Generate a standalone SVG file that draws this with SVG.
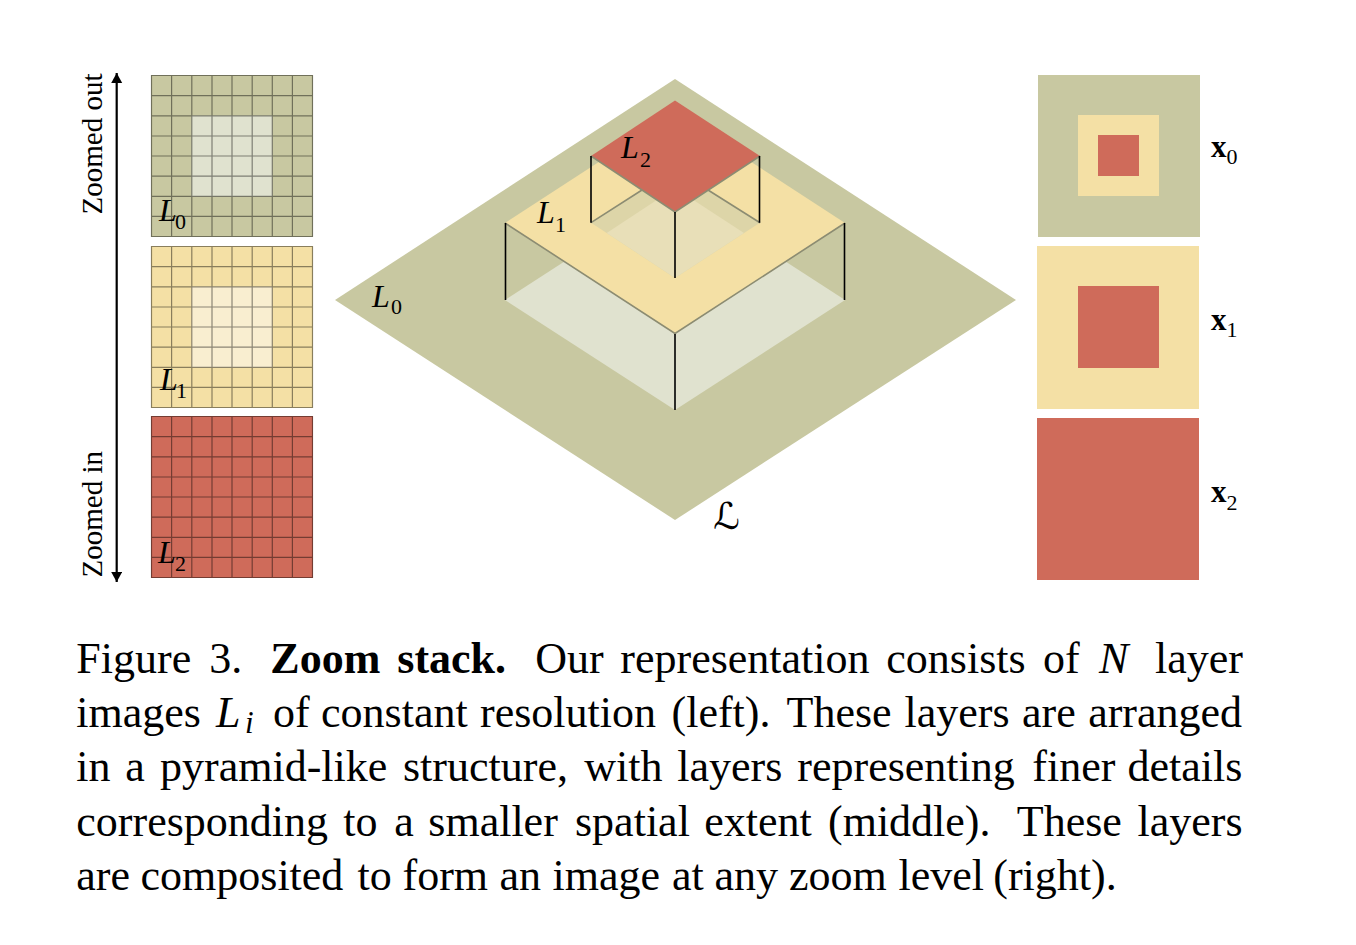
<svg xmlns="http://www.w3.org/2000/svg" xmlns:xlink="http://www.w3.org/1999/xlink" width="1356" height="945" viewBox="0 0 1356 945">
<style>
text{font-family:"Liberation Serif","Times New Roman",serif;fill:#000}
.m{font-style:italic;font-size:32px}
.s{font-size:22px}
.lab{font-size:29px}
.bx{font-weight:bold;font-size:31px}
.cap{font-size:44px}
.g{fill:#c8c8a1}.y{fill:#f4e0a5}.r{fill:#cf6b5a}
.grid{fill:none;stroke:#000;stroke-opacity:.44;stroke-width:1.2}
.post{stroke:#000;stroke-width:1.6;fill:none}
.edge{stroke:#8c8c72;stroke-width:1.6;fill:none}
</style>
<defs>
<path id="gridlines" class="grid" d="M.5 .5H161.500V161.500H.5ZM20.600 0V162M40.800 0V162M61 0V162M81 0V162M101.200 0V162M121.300 0V162M141.400 0V162M0 20.600H162M0 40.800H162M0 61H162M0 81H162M0 101.200H162M0 121.300H162M0 141.400H162"/>
<marker id="ah" markerUnits="userSpaceOnUse" markerWidth="12" markerHeight="12" refX="10" refY="5.500" orient="auto-start-reverse"><path d="M0 0L10 5.500L0 11Z" fill="#000"/></marker>
</defs>
<g id="axis"><line x1="116.700" y1="73" x2="116.700" y2="582" stroke="#000" stroke-width="2.200" marker-start="url(#ah)" marker-end="url(#ah)"/>
<text class="lab" transform="translate(102,214.500) rotate(-90)">Zoomed out</text>
<text class="lab" transform="translate(102,577.500) rotate(-90)">Zoomed in</text></g>
<g id="grid-L0"><rect class="g" x="151" y="75" width="162" height="162"/><rect x="191.500" y="115.500" width="81" height="81" fill="#e0e2cf"/><use xlink:href="#gridlines" href="#gridlines" x="151" y="75"/>
<text class="m" x="159" y="221">L</text><text class="s" x="175" y="229">0</text></g>
<g id="grid-L1"><rect class="y" x="151" y="246" width="162" height="162"/><rect x="191.500" y="286.500" width="81" height="81" fill="#f9eed0"/><use xlink:href="#gridlines" href="#gridlines" x="151" y="246"/>
<text class="m" x="160" y="390">L</text><text class="s" x="176" y="398">1</text></g>
<g id="grid-L2"><rect class="r" x="151" y="416" width="162" height="162"/><use xlink:href="#gridlines" href="#gridlines" x="151" y="416"/>
<text class="m" x="158" y="563">L</text><text class="s" x="175" y="571">2</text></g>
<g id="stack">
<polygon class="g" points="675,79 1016,300 675,520 335,300"/>
<polygon fill="#e0e2cf" points="515,293.500 675,190 835,293.500 845,300 675,410 505,300"/>
<polygon class="y" points="675,112.500 845,223 675,333.500 505,223"/>
<polygon fill="#ddd5a8" points="591,222.700 641.700,190 708.500,190 760,222.700 744,233 675,278 606.700,233"/>
<polygon fill="#e8dfb8" points="606.700,233 675,188 744,233 675,278"/>
<path class="edge" d="M505 223L675 333.500L845 223M591 222.700L642 190M760 222.700L708 190"/>
<polygon class="r" points="675,100.500 760,156 675,212 591,156"/>
<path class="edge" d="M591 156L675 212L760 156"/>
<path class="post" d="M505.500 223V300M844.500 223V300M675 334V410M591 156V222.700M759.500 156V222.700M675 212V278"/>
<text class="m" x="372" y="307">L</text><text class="s" x="391" y="314">0</text>
<text class="m" x="537" y="223">L</text><text class="s" x="555" y="232">1</text>
<text class="m" x="621" y="158">L</text><text class="s" x="640" y="167">2</text>
<text x="713" y="529" style="font-family:'DejaVu Serif','DejaVu Sans',serif;font-size:37px">ℒ</text>
</g>
<g id="x0"><rect class="g" x="1038" y="75" width="162" height="162"/><rect class="y" x="1078" y="115" width="81" height="81"/><rect class="r" x="1098" y="135" width="41" height="41"/>
<text class="bx" x="1211" y="157">x</text><text class="s" x="1226.500" y="163.500">0</text></g>
<g id="x1"><rect class="y" x="1037" y="246" width="162" height="163"/><rect class="r" x="1078" y="286" width="81" height="82"/>
<text class="bx" x="1211" y="330">x</text><text class="s" x="1226.500" y="336.500">1</text></g>
<g id="x2"><rect class="r" x="1037" y="418" width="162" height="162"/>
<text class="bx" x="1211" y="502">x</text><text class="s" x="1226.500" y="509.500">2</text></g>
<g id="caption" class="cap">
<text class="cap" y="673.300"><tspan x="76.300">Figure</tspan> <tspan x="209.300">3.</tspan> <tspan x="270.300" font-weight="bold">Zoom</tspan> <tspan x="397.300" font-weight="bold">stack.</tspan> <tspan x="535.300">Our</tspan> <tspan x="620.300">representation</tspan> <tspan x="886.300">consists</tspan> <tspan x="1043">of</tspan> <tspan x="1099" font-style="italic">N</tspan> <tspan x="1155">layer</tspan></text>
<text class="cap" y="727.300"><tspan x="76.300">images</tspan> <tspan x="216" font-style="italic">L</tspan><tspan x="245" y="733" font-style="italic" font-size="31">i</tspan> <tspan x="273" y="727.300">of</tspan> <tspan x="321">constant</tspan> <tspan x="480">resolution</tspan> <tspan x="671.500">(left).</tspan> <tspan x="786.500">These</tspan> <tspan x="904.500">layers</tspan> <tspan x="1022">are</tspan> <tspan x="1088.200">arranged</tspan></text>
<text class="cap" y="781.300"><tspan x="76.300">in</tspan> <tspan x="125.300">a</tspan> <tspan x="160">pyramid-like</tspan> <tspan x="403">structure,</tspan> <tspan x="584.300">with</tspan> <tspan x="677.300">layers</tspan> <tspan x="797.300">representing</tspan> <tspan x="1032.300">finer</tspan> <tspan x="1127.500">details</tspan></text>
<text class="cap" y="836.300"><tspan x="76.300">corresponding</tspan> <tspan x="343.300">to</tspan> <tspan x="394.300">a</tspan> <tspan x="428.300">smaller</tspan> <tspan x="575">spatial</tspan> <tspan x="704.300">extent</tspan> <tspan x="828">(middle).</tspan> <tspan x="1016.800">These</tspan> <tspan x="1137.500">layers</tspan></text>
<text class="cap" y="890.300"><tspan x="76.300">are</tspan> <tspan x="140.500">composited</tspan> <tspan x="357.500">to</tspan> <tspan x="402.500">form</tspan> <tspan x="499.500">an</tspan> <tspan x="552.500">image</tspan> <tspan x="672">at</tspan> <tspan x="714.500">any</tspan> <tspan x="789">zoom</tspan> <tspan x="898.500">level</tspan> <tspan x="993.300">(right).</tspan></text>
</g>
</svg>
